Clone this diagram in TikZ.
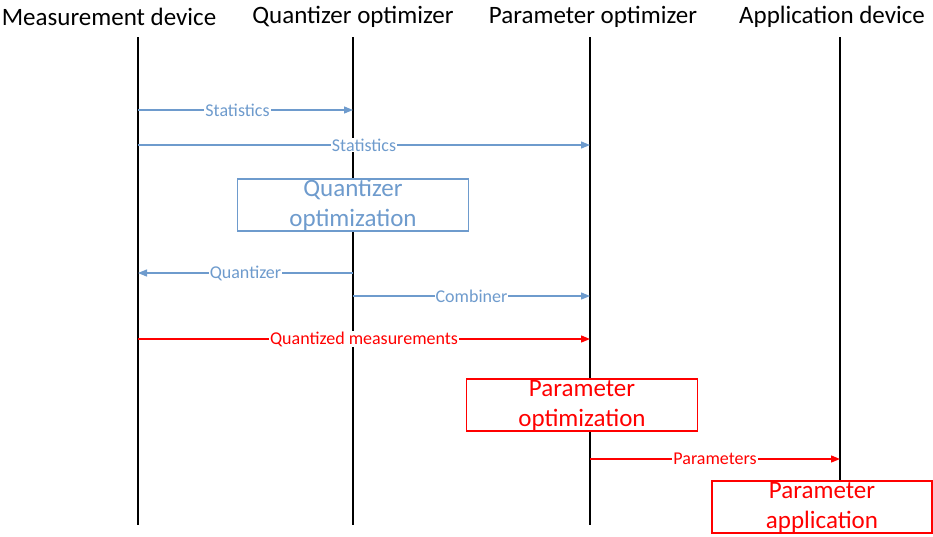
\documentclass[tikz,border=0pt]{standalone}
\usepackage{fontspec}
\setmainfont{Carlito}
\usetikzlibrary{arrows.meta}
\definecolor{msgblue}{RGB}{110,155,205}
\tikzset{
  lifeline/.style={line width=2.5pt},
  msg/.style={line width=1.3pt,-{Triangle[length=9pt,width=7pt]}},
  msglabel/.style={fill=white,inner sep=1pt,font=\fontsize{18}{20}\selectfont},
  taskbox/.style={draw,line width=1.6pt,fill=white,minimum width=231pt,minimum height=52pt,
    align=center,inner sep=0pt,font=\fontsize{25}{30}\selectfont},
  header/.style={font=\fontsize{25}{28}\selectfont}
}
\begin{document}
\begin{tikzpicture}[x=1pt,y=-1pt]
    \useasboundingbox (0,0) rectangle (933,536);

    % participants
    \node[header] (md) at (109,17) {Measurement device};
    \node[header] (qo) at (353,17) {Quantizer optimizer};
    \node[header] (po) at (593,17) {Parameter optimizer};
    \node[header] (ad) at (832,17) {Application device};

    \draw[lifeline] (138,37) -- (138,525);
    \draw[lifeline] (353,37) -- (353,525);
    \draw[lifeline] (590,37) -- (590,525);
    \draw[lifeline] (840,37) -- (840,490);

    % quantizer phase
    \coordinate (md1) at (138,110);  \coordinate (qo1) at (353,110);
    \coordinate (md2) at (138,145);  \coordinate (po2) at (590,145);
    \coordinate (qo3) at (353,273);  \coordinate (md3) at (138,273);
    \coordinate (qo4) at (353,296);  \coordinate (po4) at (590,296);

    \draw[msg,msgblue] (md1) -- node[msglabel,xshift=-8pt]{Statistics} (qo1);
    \draw[msg,msgblue] (md2) -- node[msglabel]{Statistics} (po2);

    \node[taskbox,draw=msgblue,text=msgblue] (qopt) at (353,205) {Quantizer\\optimization};

    \draw[msg,msgblue] (qo3) -- node[msglabel]{Quantizer} (md3);
    \draw[msg,msgblue] (qo4) -- node[msglabel]{Combiner} (po4);

    % parameter phase
    \coordinate (md5) at (138,339);  \coordinate (po5) at (590,339);
    \coordinate (po6) at (590,459);  \coordinate (ad6) at (840,459);

    \draw[msg,red] (md5) -- node[msglabel,text=red]{Quantized measurements} (po5);

    \node[taskbox,draw=red,text=red] (popt) at (582,405) {Parameter\\optimization};

    \draw[msg,red] (po6) -- node[msglabel,text=red]{Parameters} (ad6);

    \node[taskbox,draw=red,text=red,minimum width=220pt] (papp) at (822,507) {Parameter\\application};
\end{tikzpicture}
\end{document}
